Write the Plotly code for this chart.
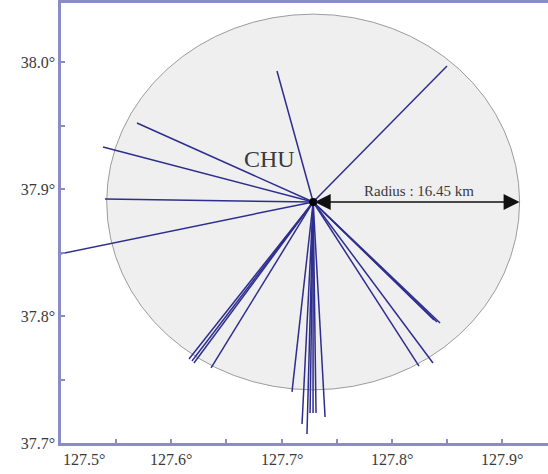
import math
import plotly.graph_objects as go

# ---- data ----
station_name = "CHU"
station_lon = 127.7287
station_lat = 37.8898
radius_km = 16.45

ray_end_lon = [127.6959, 127.8501, 127.5689, 127.5381, 127.5399, 127.4628,
               127.6161, 127.6188, 127.6206, 127.6361,
               127.7095, 127.7186, 127.7231, 127.7259, 127.7286, 127.7313, 127.7395,
               127.8410, 127.8438, 127.8383, 127.8374, 127.8247]
ray_end_lat = [37.9929, 37.9969, 37.9520, 37.9331, 37.8921, 37.8425,
               37.7661, 37.7646, 37.7630, 37.7591,
               37.7402, 37.7150, 37.7071, 37.7236, 37.7236, 37.7236, 37.7205,
               37.7953, 37.7945, 37.7969, 37.7630, 37.7606]

x_tick_vals = [127.5, 127.6, 127.7, 127.8, 127.9]
x_tick_text = ["127.5°", "127.6°", "127.7°", "127.8°", "127.9°"]
y_tick_vals = [37.7, 37.8, 37.9, 38.0]
y_tick_text = ["37.7°", "37.8°", "37.9°", "38.0°"]

# ---- derived ----
r_lat = radius_km / 111.2
r_lon = radius_km / (111.32 * math.cos(math.radians(station_lat)))

xs, ys = [], []
for lo, la in zip(ray_end_lon, ray_end_lat):
    xs += [station_lon, lo, None]
    ys += [station_lat, la, None]

AXC = "#8b8bc8"
RAY = "#2e2e8e"
FONT = "Liberation Serif"
TXT = "#3a3a3a"

fig = go.Figure()
fig.add_trace(go.Scatter(x=xs, y=ys, mode="lines",
                         line=dict(color=RAY, width=1.5),
                         hoverinfo="skip", showlegend=False))
fig.add_trace(go.Scatter(x=[station_lon], y=[station_lat], mode="markers",
                         marker=dict(color="black", size=8),
                         hoverinfo="skip", showlegend=False))

fig.add_shape(type="circle", xref="x", yref="y",
              x0=station_lon - r_lon, x1=station_lon + r_lon,
              y0=station_lat - r_lat, y1=station_lat + r_lat,
              fillcolor="#efefef", line=dict(color="#9c9c9c", width=1),
              layer="below")

# radius arrow
fig.add_annotation(x=station_lon + r_lon, y=station_lat, ax=station_lon, ay=station_lat,
                   xref="x", yref="y", axref="x", ayref="y",
                   showarrow=True, arrowhead=2, startarrowhead=2, arrowside="end+start",
                   arrowsize=2.0, startarrowsize=2.0, arrowwidth=1.6, arrowcolor="#111111",
                   standoff=0, startstandoff=0, text="")
fig.add_annotation(x=(station_lon + station_lon + r_lon) / 2 + 0.002, y=station_lat,
                   xref="x", yref="y", text="Radius : 16.45 km", showarrow=False,
                   yanchor="bottom", yshift=1,
                   font=dict(family=FONT, size=15, color=TXT))
fig.add_annotation(x=127.6887, y=37.9236, xref="x", yref="y", text=station_name,
                   showarrow=False, font=dict(family=FONT, size=24, color=TXT))

# x tick labels as annotations (first one left-aligned at the corner)
for i, (v, t) in enumerate(zip(x_tick_vals, x_tick_text)):
    fig.add_annotation(x=v, y=0, xref="x", yref="paper", text=t, showarrow=False,
                       xanchor="left" if i == 0 else "center", yanchor="top", yshift=-6,
                       font=dict(family=FONT, size=16, color=TXT))

fig.update_layout(
    width=548, height=474,
    margin=dict(l=61, r=0, t=3, b=31, autoexpand=False),
    paper_bgcolor="white", plot_bgcolor="white",
    showlegend=False,
    xaxis=dict(range=[127.5, 127.9417], showgrid=False, zeroline=False, automargin=False,
               tickmode="linear", tick0=127.5, dtick=0.05,
               ticks="inside", ticklen=4, tickwidth=2, tickcolor=AXC,
               showticklabels=False,
               showline=True, linecolor=AXC, linewidth=2.5, mirror=True),
    yaxis=dict(range=[37.7, 38.0465], showgrid=False, zeroline=False, automargin=False,
               ticks="inside", ticklen=4, tickwidth=2, tickcolor=AXC,
               showline=True, linecolor=AXC, linewidth=2.5,
               tickfont=dict(family=FONT, size=16, color=TXT),
               tickmode="array",
               tickvals=[37.7, 37.75, 37.8, 37.85, 37.9, 37.95, 38.0],
               ticktext=[y_tick_text[0], "", y_tick_text[1], "", y_tick_text[2], "", y_tick_text[3]]),
)

fig.write_html("out.html", config={"displayModeBar": False},
               post_script="document.body.style.margin='0';document.body.style.overflow='hidden';")
